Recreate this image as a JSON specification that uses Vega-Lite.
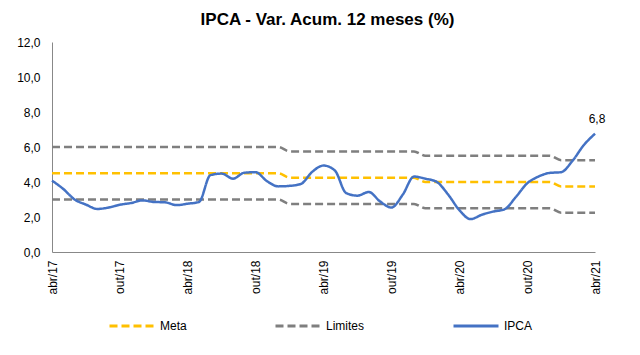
{
  "$schema": "https://vega.github.io/schema/vega-lite/v6.json",
  "width": 543,
  "height": 210,
  "autosize": {"type": "none"},
  "padding": {"left": 52, "top": 42, "right": 45, "bottom": 103},
  "background": "white",
  "title": {
    "text": "IPCA - Var. Acum. 12 meses (%)",
    "font": "Liberation Sans",
    "fontSize": 17,
    "fontWeight": "bold",
    "color": "#000000",
    "anchor": "middle",
    "dx": 4,
    "offset": 7
  },
  "config": {
    "view": {"stroke": null},
    "font": "Liberation Sans",
    "axis": {"labelOverlap": false},
    "axisY": {"labelOverlap": false, "labelFlush": false}
  },
  "data": {
    "values": [
      {"mes": "abr/17", "ipca": 4.08, "meta": 4.5, "lsup": 6.0, "linf": 3.0},
      {"mes": "mai/17", "ipca": 3.60, "meta": 4.5, "lsup": 6.0, "linf": 3.0},
      {"mes": "jun/17", "ipca": 3.00, "meta": 4.5, "lsup": 6.0, "linf": 3.0},
      {"mes": "jul/17", "ipca": 2.71, "meta": 4.5, "lsup": 6.0, "linf": 3.0},
      {"mes": "ago/17", "ipca": 2.46, "meta": 4.5, "lsup": 6.0, "linf": 3.0},
      {"mes": "set/17", "ipca": 2.54, "meta": 4.5, "lsup": 6.0, "linf": 3.0},
      {"mes": "out/17", "ipca": 2.70, "meta": 4.5, "lsup": 6.0, "linf": 3.0},
      {"mes": "nov/17", "ipca": 2.80, "meta": 4.5, "lsup": 6.0, "linf": 3.0},
      {"mes": "dez/17", "ipca": 2.95, "meta": 4.5, "lsup": 6.0, "linf": 3.0},
      {"mes": "jan/18", "ipca": 2.86, "meta": 4.5, "lsup": 6.0, "linf": 3.0},
      {"mes": "fev/18", "ipca": 2.84, "meta": 4.5, "lsup": 6.0, "linf": 3.0},
      {"mes": "mar/18", "ipca": 2.68, "meta": 4.5, "lsup": 6.0, "linf": 3.0},
      {"mes": "abr/18", "ipca": 2.76, "meta": 4.5, "lsup": 6.0, "linf": 3.0},
      {"mes": "mai/18", "ipca": 2.86, "meta": 4.5, "lsup": 6.0, "linf": 3.0},
      {"mes": "jun/18", "ipca": 4.39, "meta": 4.5, "lsup": 6.0, "linf": 3.0},
      {"mes": "jul/18", "ipca": 4.48, "meta": 4.5, "lsup": 6.0, "linf": 3.0},
      {"mes": "ago/18", "ipca": 4.19, "meta": 4.5, "lsup": 6.0, "linf": 3.0},
      {"mes": "set/18", "ipca": 4.53, "meta": 4.5, "lsup": 6.0, "linf": 3.0},
      {"mes": "out/18", "ipca": 4.56, "meta": 4.5, "lsup": 6.0, "linf": 3.0},
      {"mes": "nov/18", "ipca": 4.05, "meta": 4.5, "lsup": 6.0, "linf": 3.0},
      {"mes": "dez/18", "ipca": 3.75, "meta": 4.5, "lsup": 6.0, "linf": 3.0},
      {"mes": "jan/19", "ipca": 3.78, "meta": 4.25, "lsup": 5.75, "linf": 2.75},
      {"mes": "fev/19", "ipca": 3.89, "meta": 4.25, "lsup": 5.75, "linf": 2.75},
      {"mes": "mar/19", "ipca": 4.58, "meta": 4.25, "lsup": 5.75, "linf": 2.75},
      {"mes": "abr/19", "ipca": 4.94, "meta": 4.25, "lsup": 5.75, "linf": 2.75},
      {"mes": "mai/19", "ipca": 4.66, "meta": 4.25, "lsup": 5.75, "linf": 2.75},
      {"mes": "jun/19", "ipca": 3.37, "meta": 4.25, "lsup": 5.75, "linf": 2.75},
      {"mes": "jul/19", "ipca": 3.22, "meta": 4.25, "lsup": 5.75, "linf": 2.75},
      {"mes": "ago/19", "ipca": 3.43, "meta": 4.25, "lsup": 5.75, "linf": 2.75},
      {"mes": "set/19", "ipca": 2.89, "meta": 4.25, "lsup": 5.75, "linf": 2.75},
      {"mes": "out/19", "ipca": 2.54, "meta": 4.25, "lsup": 5.75, "linf": 2.75},
      {"mes": "nov/19", "ipca": 3.27, "meta": 4.25, "lsup": 5.75, "linf": 2.75},
      {"mes": "dez/19", "ipca": 4.31, "meta": 4.25, "lsup": 5.75, "linf": 2.75},
      {"mes": "jan/20", "ipca": 4.19, "meta": 4.0, "lsup": 5.5, "linf": 2.5},
      {"mes": "fev/20", "ipca": 4.01, "meta": 4.0, "lsup": 5.5, "linf": 2.5},
      {"mes": "mar/20", "ipca": 3.30, "meta": 4.0, "lsup": 5.5, "linf": 2.5},
      {"mes": "abr/20", "ipca": 2.40, "meta": 4.0, "lsup": 5.5, "linf": 2.5},
      {"mes": "mai/20", "ipca": 1.88, "meta": 4.0, "lsup": 5.5, "linf": 2.5},
      {"mes": "jun/20", "ipca": 2.13, "meta": 4.0, "lsup": 5.5, "linf": 2.5},
      {"mes": "jul/20", "ipca": 2.31, "meta": 4.0, "lsup": 5.5, "linf": 2.5},
      {"mes": "ago/20", "ipca": 2.44, "meta": 4.0, "lsup": 5.5, "linf": 2.5},
      {"mes": "set/20", "ipca": 3.14, "meta": 4.0, "lsup": 5.5, "linf": 2.5},
      {"mes": "out/20", "ipca": 3.92, "meta": 4.0, "lsup": 5.5, "linf": 2.5},
      {"mes": "nov/20", "ipca": 4.31, "meta": 4.0, "lsup": 5.5, "linf": 2.5},
      {"mes": "dez/20", "ipca": 4.52, "meta": 4.0, "lsup": 5.5, "linf": 2.5},
      {"mes": "jan/21", "ipca": 4.56, "meta": 3.75, "lsup": 5.25, "linf": 2.25},
      {"mes": "fev/21", "ipca": 5.20, "meta": 3.75, "lsup": 5.25, "linf": 2.25},
      {"mes": "mar/21", "ipca": 6.10, "meta": 3.75, "lsup": 5.25, "linf": 2.25},
      {"mes": "abr/21", "ipca": 6.76, "meta": 3.75, "lsup": 5.25, "linf": 2.25, "rotulo": "6,8"}
    ]
  },
  "encoding": {
    "x": {
      "field": "mes",
      "type": "ordinal",
      "sort": null,
      "scale": {"type": "point", "padding": 0},
      "axis": {
        "title": null,
        "values": ["abr/17", "out/17", "abr/18", "out/18", "abr/19", "out/19", "abr/20", "out/20", "abr/21"],
        "labelAngle": -90,
        "labelAlign": "right",
        "labelBaseline": "middle",
        "labelFontSize": 12,
        "labelColor": "#000000",
        "labelPadding": 8,
        "labelOverlap": false,
        "ticks": false,
        "domainColor": "#888888",
        "domainWidth": 1,
        "grid": false
      }
    },
    "y": {
      "field": "lsup",
      "type": "quantitative",
      "scale": {"domain": [0, 12]},
      "axis": {
        "title": null,
        "values": [0, 2, 4, 6, 8, 10, 12],
        "labelExpr": "replace(format(datum.value, '.1f'), '.', ',')",
        "labelFontSize": 12,
        "labelColor": "#000000",
        "labelPadding": 12,
        "labelOverlap": false,
        "labelFlush": false,
        "ticks": false,
        "grid": false,
        "domainColor": "#888888",
        "domainWidth": 1
      }
    }
  },
  "layer": [
    {
      "mark": {"type": "line", "strokeWidth": 2.5, "interpolate": "monotone"},
      "encoding": {
        "color": {"datum": "Limites"},
        "strokeDash": {"datum": "Limites"}
      }
    },
    {
      "mark": {"type": "line", "strokeWidth": 2.5, "interpolate": "monotone"},
      "encoding": {
        "y": {"field": "linf", "type": "quantitative"},
        "color": {"datum": "Limites"},
        "strokeDash": {"datum": "Limites"}
      }
    },
    {
      "mark": {"type": "line", "strokeWidth": 2.5, "interpolate": "monotone"},
      "encoding": {
        "y": {"field": "meta", "type": "quantitative"},
        "color": {"datum": "Meta"},
        "strokeDash": {"datum": "Meta"}
      }
    },
    {
      "mark": {"type": "line", "strokeWidth": 2.5, "interpolate": "monotone"},
      "encoding": {
        "y": {"field": "ipca", "type": "quantitative"},
        "color": {
          "datum": "IPCA",
          "scale": {"domain": ["Meta", "Limites", "IPCA"], "range": ["#FFC000", "#7F7F7F", "#4472C4"]},
          "legend": {
            "title": null,
            "orient": "none",
            "direction": "horizontal",
            "legendX": 56,
            "legendY": 260,
            "symbolType": "stroke",
            "symbolSize": 2025,
            "symbolStrokeWidth": 3,
            "labelFontSize": 12,
            "labelColor": "#000000",
            "labelOffset": 4,
            "columnPadding": 82,
            "padding": 0
          }
        },
        "strokeDash": {
          "datum": "IPCA",
          "scale": {"domain": ["Meta", "Limites", "IPCA"], "range": [[8, 4], [8, 4], [1, 0]]},
          "legend": {
            "title": null,
            "orient": "none",
            "direction": "horizontal",
            "legendX": 56,
            "legendY": 260,
            "symbolType": "stroke",
            "symbolSize": 2025,
            "symbolStrokeWidth": 3,
            "labelFontSize": 12,
            "labelColor": "#000000",
            "labelOffset": 4,
            "columnPadding": 82,
            "padding": 0
          }
        }
      }
    },
    {
      "transform": [{"filter": "datum.rotulo != null"}],
      "mark": {"type": "text", "fontSize": 12, "color": "#000000", "baseline": "bottom", "dy": -8, "dx": 2},
      "encoding": {
        "y": {"field": "ipca", "type": "quantitative"},
        "text": {"field": "rotulo"}
      }
    }
  ]
}
